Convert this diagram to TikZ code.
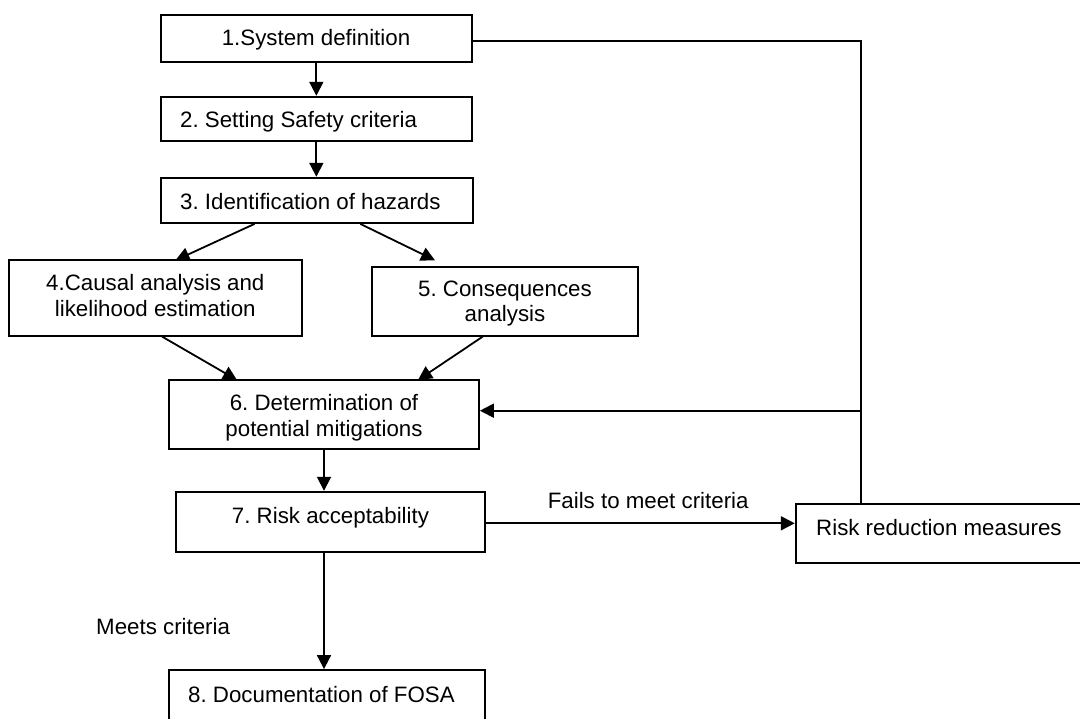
\documentclass[tikz,border=0pt]{standalone}
\usepackage{fontspec}
\setmainfont{Liberation Sans}
\usetikzlibrary{arrows.meta,calc}
\frenchspacing
\begin{document}
\begin{tikzpicture}[x=1pt,y=-1pt,
  box/.style={draw=black,line width=1.8pt,inner sep=0pt,fill=white},
  txt/.style={inner sep=0pt,font=\fontsize{22.3}{26}\selectfont},
  conn/.style={line width=1.8pt,-{Triangle[length=14pt,width=14pt]}},
  plain/.style={line width=1.8pt}]
\useasboundingbox (0,0) rectangle (1080,719);
\clip (0,0) rectangle (1080,719);
\fill[white] (0,0) rectangle (1080,719);
% boxes
\node[box,minimum width=310.7pt,minimum height=47pt] (b1) at (316.35,38.5) {};
\node[box,minimum width=310.7pt,minimum height=44pt] (b2) at (316.35,118.7) {};
\node[box,minimum width=312pt,minimum height=45.3pt] (b3) at (317,200.35) {};
\node[box,minimum width=293.4pt,minimum height=75.4pt] (b4) at (155.3,298) {};
\node[box,minimum width=266pt,minimum height=69pt] (b5) at (505,301.2) {};
\node[box,minimum width=310pt,minimum height=69.3pt] (b6) at (324,414.65) {};
\node[box,minimum width=309.3pt,minimum height=60.6pt] (b7) at (330.35,522) {};
\node[box,minimum width=316pt,minimum height=80pt] (b8) at (327,710) {};
\node[box,minimum width=320pt,minimum height=58.7pt] (rr) at (955.7,533.35) {};
% texts
\node[txt,anchor=base] (t1) at (316,45.7) {1.System definition};
\node[txt,anchor=base west] (t2) at (180,127.8) {2. Setting Safety criteria};
\node[txt,anchor=base west] (t3) at (180,209.5) {3. Identification of hazards};
\node[txt,anchor=base] (t4a) at (155.3,291) {4.Causal analysis and};
\node[txt,anchor=base] (t4b) at (155.3,316.7) {likelihood estimation};
\node[txt,anchor=base] (t5a) at (505,296.7) {5. Consequences};
\node[txt,anchor=base] (t5b) at (505,322) {analysis};
\node[txt,anchor=base] (t6a) at (324,410.7) {6. Determination of};
\node[txt,anchor=base] (t6b) at (324,436.7) {potential mitigations};
\node[txt,anchor=base] (t7) at (330.5,523.3) {7. Risk acceptability};
\node[txt,anchor=base west] (t8) at (188,702.7) {8. Documentation of FOSA};
\node[txt,anchor=base west] (trr) at (816,535.7) {Risk reduction measures};
\node[txt,anchor=base west] (lfail) at (547.6,508.3) {Fails to meet criteria};
\node[txt,anchor=base west] (lmeet) at (96,634) {Meets criteria};
% coordinates
\coordinate (e4) at (175.5,260.3);
\coordinate (e5) at (435,260.3);
\coordinate (e6a) at (237,380);
\coordinate (e6b) at (418,380);
\coordinate (fbtop) at (861,40.7);
\coordinate (fbmid) at (861,410.7);
% connectors
\draw[conn] (b1.south) -- (b1.south |- b2.north);
\draw[conn] (b1.south |- b2.south) -- (b1.south |- b3.north);
\draw[conn] ($(b3.south west)!0.301!(b3.south east)$) -- (e4);
\draw[conn] ($(b3.south west)!0.638!(b3.south east)$) -- (e5);
\draw[conn] ($(b4.south west)!0.523!(b4.south east)$) -- (e6a);
\draw[conn] ($(b5.south west)!0.417!(b5.south east)$) -- (e6b);
\draw[conn] (b6.south) -- (b6.south |- b7.north);
\draw[conn] (b6.south |- b7.south) -- (b6.south |- b8.north);
\draw[conn] (b7.east |- 0,523.3) -- (rr.west |- 0,523.3);
\draw[plain] (b1.east |- fbtop) -- (fbtop) -- (fbtop |- rr.north);
\draw[conn] (fbmid) -- (fbmid -| b6.east);
\end{tikzpicture}
\end{document}
